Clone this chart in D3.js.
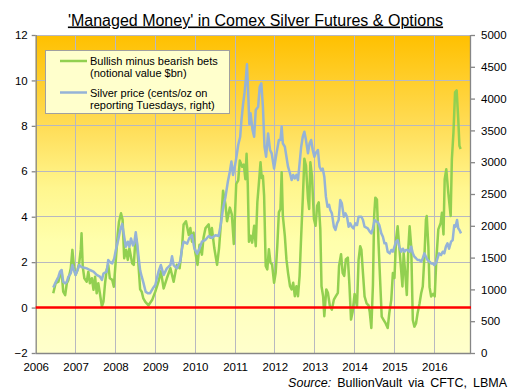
<!DOCTYPE html>
<html>
<head>
<meta charset="utf-8">
<script src="https://cdn.jsdelivr.net/npm/d3@7"></script>
<style>
  body { margin: 0; background: #fff; }
  svg text { font-family: Arial, "Liberation Sans", sans-serif; fill: #000; }
</style>
</head>
<body>
<svg id="chart" width="512" height="392"></svg>
<script>
// managed money net position, $bn (left axis)
const betsYears = [2006.44,2006.50,2006.57,2006.61,2006.65,2006.69,2006.74,2006.78,2006.82,2006.88,2006.92,2006.96,
  2007.00,2007.05,2007.09,2007.13,2007.15,2007.18,2007.22,2007.28,2007.32,2007.36,2007.41,2007.45,2007.49,2007.53,2007.57,2007.61,2007.66,2007.70,2007.74,2007.78,2007.82,2007.86,2007.92,2007.96,
  2008.01,2008.06,2008.09,2008.14,2008.18,2008.22,2008.27,2008.31,2008.35,2008.39,2008.42,2008.46,2008.49,2008.53,2008.57,2008.62,2008.66,2008.70,2008.75,2008.83,2008.92,
  2009.00,2009.08,2009.14,2009.21,2009.29,2009.38,2009.46,2009.54,2009.61,2009.67,2009.71,2009.77,2009.84,2009.88,2009.92,2009.96,
  2010.00,2010.06,2010.11,2010.17,2010.21,2010.26,2010.34,2010.38,2010.42,2010.48,2010.55,2010.60,2010.65,2010.70,2010.76,2010.80,2010.87,2010.92,2010.97,
  2011.03,2011.08,2011.12,2011.18,2011.22,2011.26,2011.29,2011.32,2011.35,2011.39,2011.43,2011.48,2011.52,2011.56,2011.60,2011.64,2011.67,2011.70,2011.73,2011.77,2011.81,2011.85,2011.89,2011.93,2011.98,
  2012.02,2012.06,2012.10,2012.14,2012.17,2012.20,2012.25,2012.29,2012.33,2012.38,2012.42,2012.46,2012.50,2012.54,2012.58,2012.62,2012.66,2012.70,2012.74,2012.78,2012.83,2012.86,2012.89,2012.93,2012.98,
  2013.02,2013.06,2013.10,2013.14,2013.17,2013.21,2013.24,2013.29,2013.33,2013.38,2013.43,2013.48,2013.53,2013.58,2013.61,2013.66,2013.70,2013.74,2013.78,2013.83,2013.87,2013.91,2013.95,
  2014.00,2014.06,2014.10,2014.14,2014.17,2014.21,2014.25,2014.30,2014.35,2014.38,2014.42,2014.46,2014.49,2014.52,2014.56,2014.60,2014.64,2014.68,2014.73,2014.78,2014.83,2014.87,2014.92,2014.96,
  2015.00,2015.04,2015.08,2015.12,2015.16,2015.20,2015.23,2015.27,2015.31,2015.35,2015.38,2015.42,2015.46,2015.50,2015.54,2015.58,2015.63,2015.67,2015.71,2015.75,2015.79,2015.81,2015.85,2015.88,2015.92,2015.97,
  2016.01,2016.05,2016.10,2016.16,2016.19,2016.23,2016.26,2016.30,2016.35,2016.41,2016.44,2016.48,2016.52,2016.56,2016.60,2016.63,2016.66];
const betsValues = [0.63,1.07,1.14,1.44,1.58,0.70,0.55,1.07,1.22,1.73,2.54,1.80,
  1.44,1.66,1.95,2.54,3.27,1.80,1.29,1.14,1.58,1.07,1.29,0.78,1.36,0.63,1.07,0.63,0.04,0.26,1.07,1.66,1.88,1.29,1.22,0.92,
  2.10,3.27,3.78,4.15,3.86,2.17,2.54,2.10,2.61,2.24,1.95,1.88,2.68,3.00,2.10,0.80,0.70,0.40,0.25,0.10,0.33,
  0.70,1.14,1.60,0.84,1.29,1.73,1.14,1.88,1.73,2.62,3.66,3.80,3.20,3.50,2.90,3.30,
  2.47,1.88,2.77,2.33,3.07,3.50,3.66,3.07,3.50,2.62,1.88,2.62,3.80,5.14,4.55,3.80,4.40,4.10,2.80,
  5.44,5.60,6.47,6.20,6.30,5.65,6.77,5.44,2.90,3.16,2.86,3.60,2.70,4.63,5.50,6.40,5.70,5.80,4.93,1.83,1.68,2.57,1.98,1.90,1.09,
  1.53,2.70,4.19,4.34,5.96,4.04,3.16,2.12,1.53,0.94,0.80,1.09,0.50,0.94,0.50,1.39,3.16,4.78,6.55,6.25,4.80,4.34,6.40,5.80,3.90,
  3.60,4.48,4.63,3.45,0.94,0.50,-0.38,0.80,0.65,0.06,-0.09,0.35,0.50,0.65,1.83,2.35,1.53,1.39,2.12,2.20,1.00,-0.53,-0.20,
  0.60,0.05,2.10,2.70,2.55,1.52,0.49,0.19,0.10,-0.20,-0.90,1.00,4.03,4.84,4.76,2.85,1.22,-0.40,-0.55,-0.70,-0.90,-0.25,0.34,1.52,
  1.30,3.00,3.58,2.70,1.81,0.93,2.40,1.52,0.55,2.70,3.58,2.70,-0.55,-0.84,-0.70,-0.25,0.19,0.63,0.93,2.20,3.88,4.03,2.70,0.90,0.49,0.60,
  0.49,2.10,3.44,3.73,4.17,3.22,5.65,6.09,5.06,4.03,6.53,7.71,9.48,9.56,8.30,7.12,6.98];

// silver price, cents/oz (right axis)
const priceYears = [2006.44,2006.50,2006.57,2006.61,2006.65,2006.69,2006.74,2006.78,2006.82,2006.88,2006.92,2006.96,
  2007.00,2007.05,2007.09,2007.15,2007.22,2007.28,2007.36,2007.45,2007.53,2007.61,2007.66,2007.70,2007.78,2007.82,2007.86,2007.92,2007.97,
  2008.01,2008.07,2008.12,2008.17,2008.22,2008.26,2008.31,2008.35,2008.39,2008.44,2008.47,2008.51,2008.55,2008.58,2008.62,2008.66,2008.70,2008.76,2008.82,2008.87,2008.94,
  2009.00,2009.08,2009.14,2009.21,2009.29,2009.38,2009.42,2009.46,2009.54,2009.63,2009.67,2009.71,2009.80,2009.85,2009.92,2009.98,
  2010.05,2010.11,2010.17,2010.26,2010.34,2010.42,2010.51,2010.59,2010.65,2010.70,2010.76,2010.82,2010.87,2010.91,2010.95,
  2011.00,2011.03,2011.08,2011.13,2011.16,2011.20,2011.24,2011.27,2011.30,2011.33,2011.36,2011.39,2011.44,2011.48,2011.52,2011.58,2011.62,2011.66,2011.70,2011.74,2011.78,2011.83,2011.88,2011.92,2011.98,
  2012.04,2012.10,2012.14,2012.17,2012.20,2012.25,2012.29,2012.33,2012.38,2012.42,2012.46,2012.50,2012.54,2012.58,2012.62,2012.66,2012.70,2012.74,2012.78,2012.83,2012.87,2012.91,2012.95,2012.99,
  2013.03,2013.08,2013.12,2013.16,2013.20,2013.24,2013.28,2013.32,2013.36,2013.39,2013.43,2013.48,2013.52,2013.56,2013.60,2013.64,2013.68,2013.73,2013.77,2013.81,2013.85,2013.89,2013.93,2013.97,
  2014.02,2014.06,2014.10,2014.17,2014.21,2014.25,2014.33,2014.38,2014.42,2014.46,2014.50,2014.54,2014.58,2014.62,2014.67,2014.71,2014.75,2014.79,2014.83,2014.88,2014.92,2014.96,
  2015.00,2015.04,2015.08,2015.12,2015.17,2015.21,2015.25,2015.29,2015.33,2015.38,2015.42,2015.46,2015.50,2015.54,2015.58,2015.63,2015.67,2015.71,2015.75,2015.79,2015.83,2015.88,2015.92,2015.96,
  2016.00,2016.04,2016.08,2016.12,2016.17,2016.21,2016.25,2016.29,2016.33,2016.37,2016.42,2016.46,2016.50,2016.53,2016.57,2016.60,2016.63,2016.67];
const priceValues = [1030,1110,1200,1280,1305,1120,1095,1120,1200,1253,1383,1300,
  1227,1305,1383,1350,1340,1330,1305,1280,1227,1200,1150,1250,1280,1462,1430,1410,1488,
  1619,1776,1933,2030,1829,1671,1750,1671,1802,1690,1720,1900,1700,1514,1300,1200,1110,960,938,940,1017,
  1069,1278,1383,1226,1331,1383,1520,1383,1331,1450,1645,1750,1720,1802,1855,1645,
  1560,1645,1750,1780,1840,1810,1850,1840,2050,2274,2450,2693,2850,3010,2800,
  2950,3060,3270,3400,3650,3900,4100,4300,4540,4100,3600,3768,3506,3401,3820,3872,4187,4240,3872,3243,3086,3453,3191,3139,2900,
  3139,3348,3348,3558,3296,3243,3086,2929,2824,2720,2800,2746,2800,2720,2982,3243,3401,3479,3348,3139,3296,3350,3191,3086,
  3150,3191,2929,2877,2900,2772,2458,2300,2330,2248,2196,1986,1934,2038,2091,2405,2353,2143,2196,2143,1986,2038,1986,1960,
  2038,2010,2143,2143,2091,1986,1960,1908,1881,1960,2091,2070,2060,2010,1881,1829,1724,1724,1593,1567,1620,1593,
  1672,1750,1776,1672,1593,1640,1593,1620,1619,1593,1672,1567,1514,1490,1462,1462,1436,1490,1567,1514,1462,1436,1409,1409,
  1383,1409,1488,1567,1540,1593,1567,1672,1724,1640,1750,1776,2010,1986,2091,1960,1934,1881];

const yearTicks = [2006,2007,2008,2009,2010,2011,2012,2013,2014,2015,2016];
const leftTicks = [-2,0,2,4,6,8,10,12];
const rightTicks = [0,500,1000,1500,2000,2500,3000,3500,4000,4500,5000];
const legendLabels = [
  ["Bullish minus bearish bets", "(notional value $bn)"],
  ["Silver price (cents/oz on", "reporting Tuesdays, right)"]
];

var margin = {top: 35, right: 41, bottom: 39, left: 35.7};
var W = 512, H = 392;

var svg = d3.select("#chart");

var x = d3.scaleLinear().domain([2006, 2016.92]).range([margin.left, W - margin.right]);
var yL = d3.scaleLinear().domain([-2, 12]).range([H - margin.bottom, margin.top]);
var yR = d3.scaleLinear().domain([0, 5000]).range([H - margin.bottom, margin.top]);

// plot background gradient
var grad = svg.append("defs").append("linearGradient")
  .attr("id", "bg").attr("x1", 0).attr("y1", 0).attr("x2", 0).attr("y2", 1);
grad.append("stop").attr("offset", "0%").attr("stop-color", "#FFC000");
grad.append("stop").attr("offset", "28%").attr("stop-color", "#FFDC55");
grad.append("stop").attr("offset", "48%").attr("stop-color", "#FFF68E");
grad.append("stop").attr("offset", "65%").attr("stop-color", "#FFFFAC");
grad.append("stop").attr("offset", "100%").attr("stop-color", "#FFFFCC");

svg.append("rect")
  .attr("x", x.range()[0]).attr("y", yL.range()[1])
  .attr("width", x.range()[1] - x.range()[0])
  .attr("height", yL.range()[0] - yL.range()[1])
  .attr("fill", "url(#bg)");

// gridlines
var grid = svg.append("g").attr("stroke", "#B8B8C0").attr("stroke-width", 1).attr("shape-rendering", "crispEdges");
grid.selectAll(".hg").data(leftTicks.slice(1)).join("line")
  .attr("x1", x.range()[0]).attr("x2", x.range()[1])
  .attr("y1", d => yL(d)).attr("y2", d => yL(d));
grid.selectAll(".vg").data(yearTicks.slice(1)).join("line")
  .attr("x1", d => x(d)).attr("x2", d => x(d))
  .attr("y1", yL.range()[0]).attr("y2", yL.range()[1]);

// axes
var axisL = svg.append("g").attr("transform", `translate(${x.range()[0]},0)`)
  .call(d3.axisLeft(yL).tickValues(leftTicks).tickSize(4).tickPadding(4));
var axisR = svg.append("g").attr("transform", `translate(${x.range()[1]},0)`)
  .call(d3.axisRight(yR).tickValues(rightTicks).tickFormat(d3.format("d")).tickSize(4).tickPadding(6));
var axisB = svg.append("g").attr("transform", `translate(0,${yL.range()[0]})`)
  .call(d3.axisBottom(x).tickValues(yearTicks).tickFormat(d3.format("d")).tickSize(0).tickPadding(10));

[axisL, axisR, axisB].forEach(a => {
  a.selectAll(".domain").attr("stroke", "#868686").attr("stroke-width", 1.3);
  a.selectAll(".tick line").attr("stroke", "#868686").attr("stroke-width", 1.3);
  a.selectAll("text").attr("font-size", "11.5px").attr("fill", "#000")
    .attr("font-family", "Arial, 'Liberation Sans', sans-serif");
});
axisL.select(".domain").attr("d", `M0.5,${yL.range()[0]}V${yL.range()[1]}`);
axisR.select(".domain").attr("d", `M-0.5,${yR.range()[0]}V${yR.range()[1]}`);
axisB.select(".domain").attr("d", `M${x.range()[0]},0.5H${x.range()[1]}`);

// series
var betsLine = d3.line().x((d, i) => x(betsYears[i])).y(d => yL(d));
var priceLine = d3.line().x((d, i) => x(priceYears[i])).y(d => yR(d));

svg.append("path").datum(betsValues)
  .attr("d", betsLine).attr("fill", "none")
  .attr("stroke", "#92D050").attr("stroke-width", 2.5).attr("stroke-linejoin", "round");

svg.append("path").datum(priceValues)
  .attr("d", priceLine).attr("fill", "none")
  .attr("stroke", "#95B3D7").attr("stroke-width", 2.5).attr("stroke-linejoin", "round");

// zero line
svg.append("line")
  .attr("x1", x.range()[0]).attr("x2", x.range()[1])
  .attr("y1", yL(0)).attr("y2", yL(0))
  .attr("stroke", "#FF0000").attr("stroke-width", 2.5);

// legend
var lg = svg.append("g");
lg.append("rect").attr("x", 45.5).attr("y", 50.5).attr("width", 184).attr("height", 63)
  .attr("fill", "#FFFFCC").attr("stroke", "#A0A0A0").attr("stroke-width", 1);
var legendColors = ["#92D050", "#95B3D7"];
legendLabels.forEach((lines, i) => {
  var ly = 61 + i * 31.5;
  lg.append("line").attr("x1", 60).attr("x2", 87).attr("y1", ly).attr("y2", ly)
    .attr("stroke", legendColors[i]).attr("stroke-width", 2.5);
  lines.forEach((t, j) => {
    lg.append("text").attr("x", 90).attr("y", ly + 4 + j * 12)
      .attr("font-size", "11px").text(t);
  });
});

// title
svg.append("text").attr("x", 255.5).attr("y", 25.5).attr("text-anchor", "middle")
  .attr("font-size", "16px").attr("text-decoration", "underline")
  .text("'Managed Money' in Comex Silver Futures & Options");

// source
var src = svg.append("text").attr("x", 507).attr("y", 387).attr("text-anchor", "end")
  .attr("font-size", "12.5px").attr("word-spacing", "2.5px");
src.append("tspan").attr("font-style", "italic").text("Source:");
src.append("tspan").text(" BullionVault via CFTC, LBMA");
</script>
</body>
</html>
